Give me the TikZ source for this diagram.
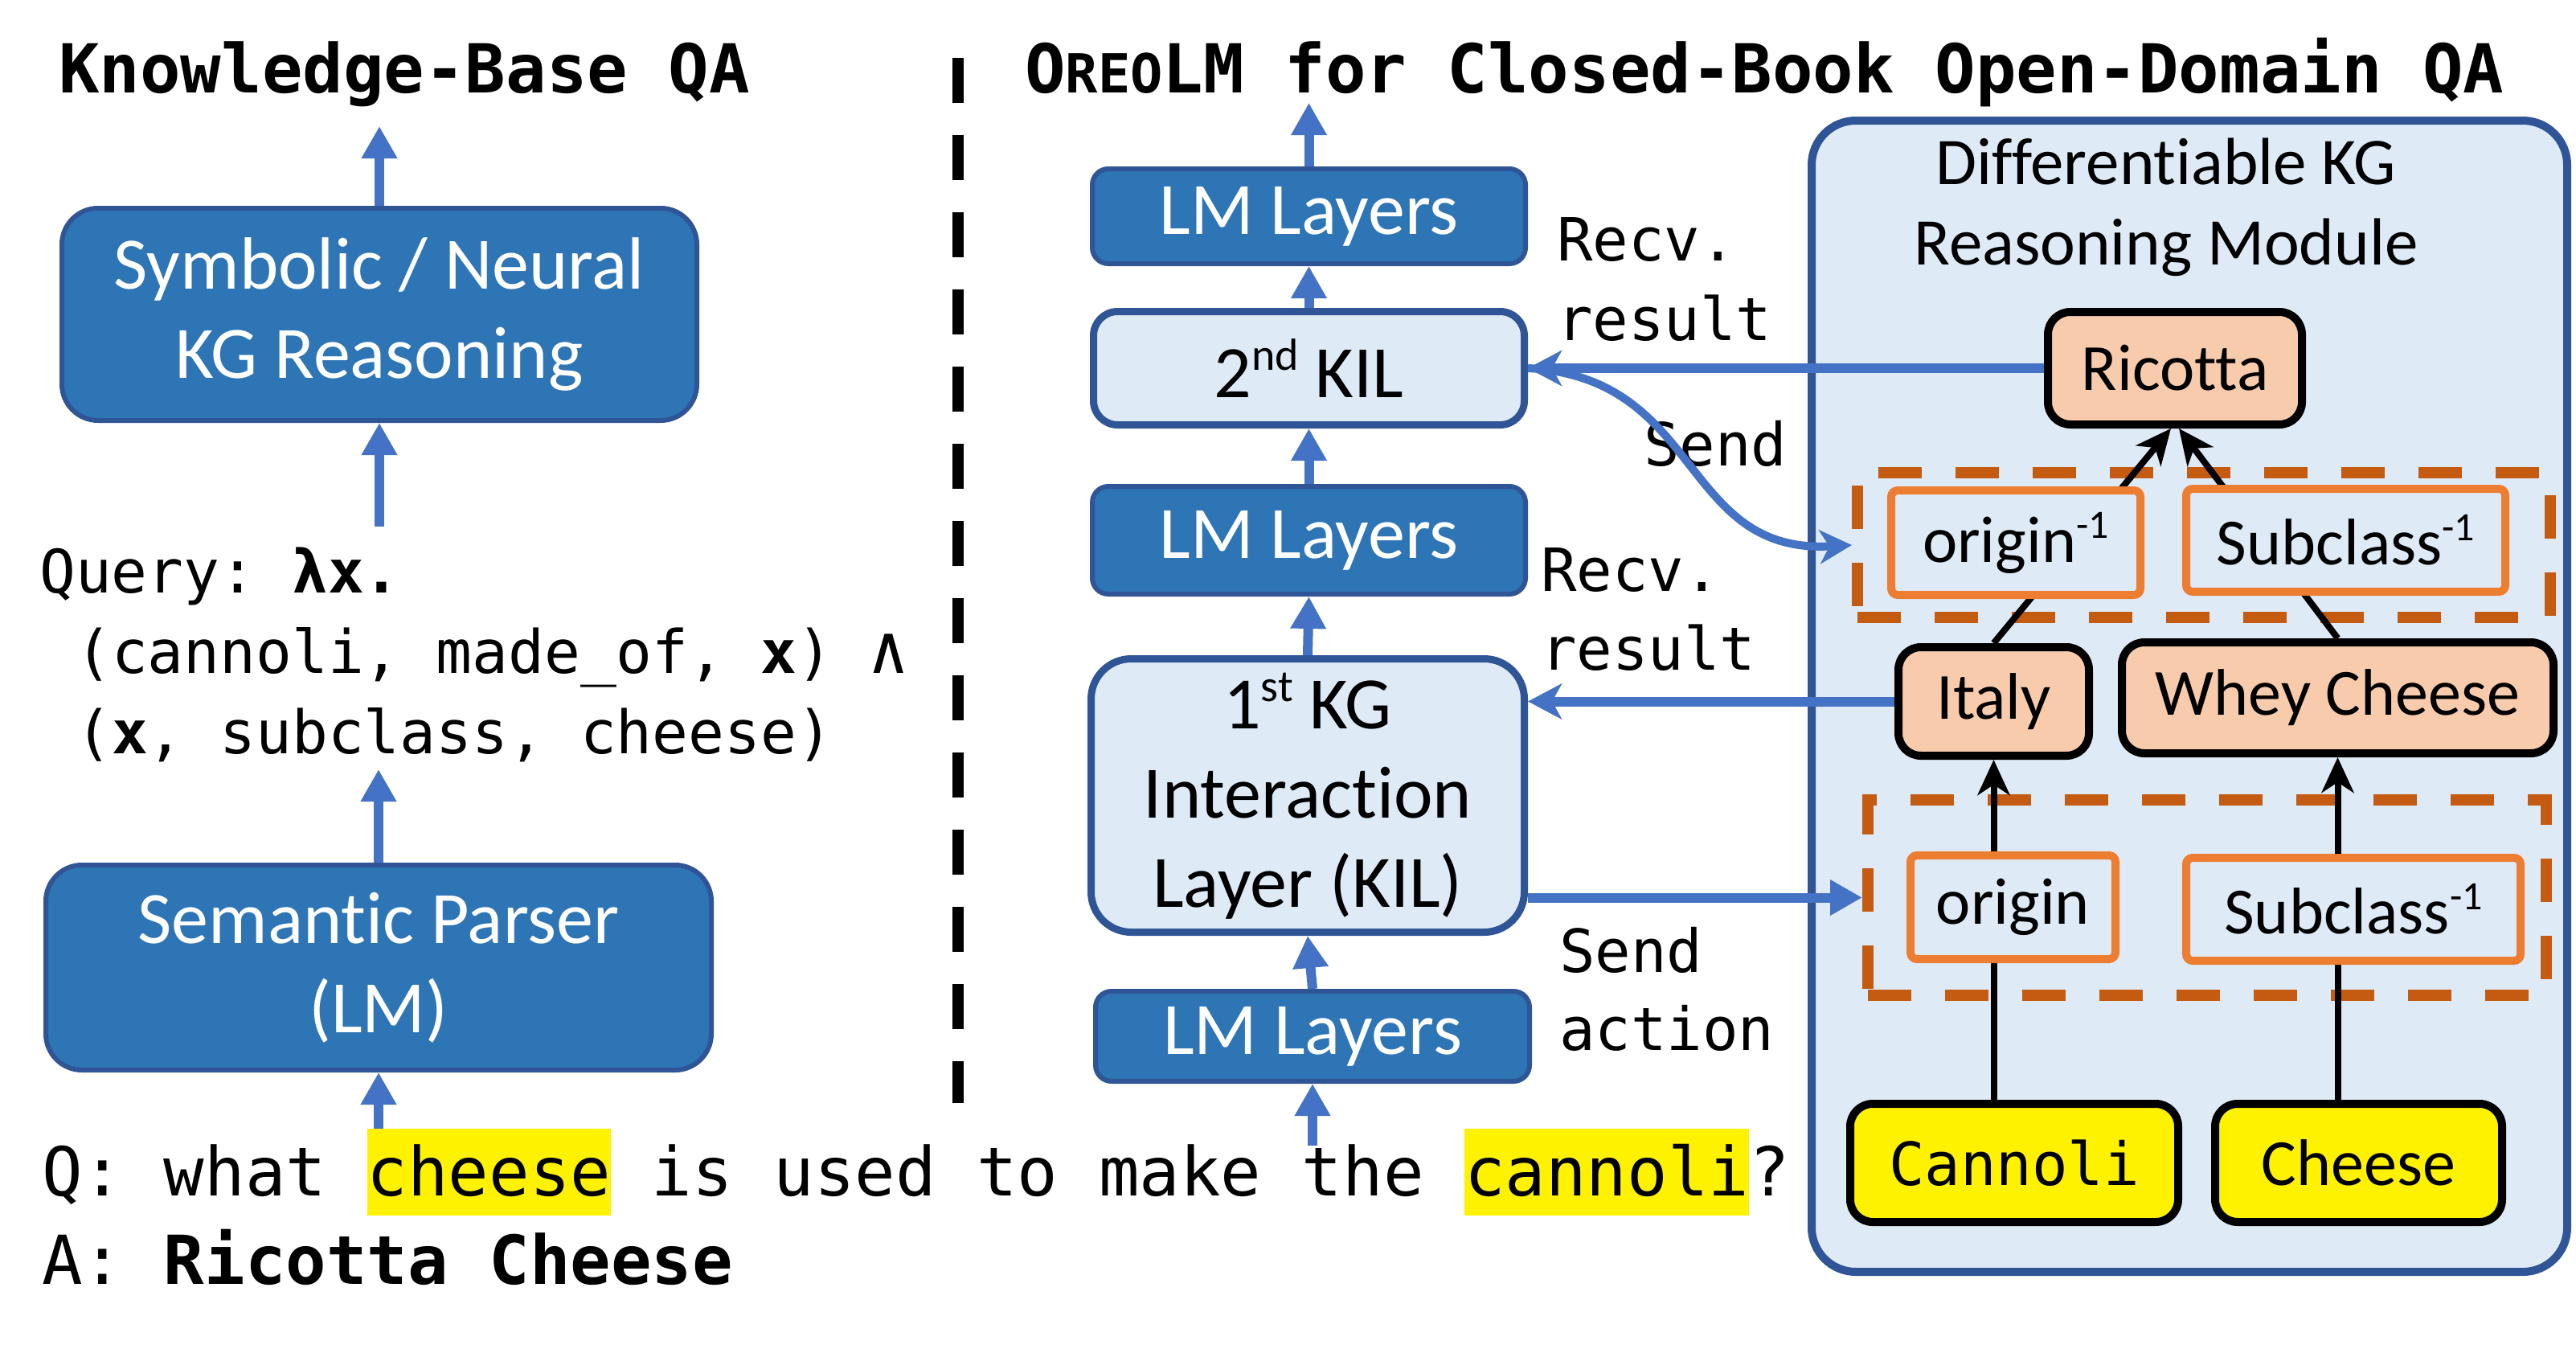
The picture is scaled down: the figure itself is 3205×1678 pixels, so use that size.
\documentclass[tikz,border=0pt]{standalone}
\usepackage{fontspec}
\setmainfont{Carlito}[RawFeature=-liga]
\newfontfamily\mono{DejaVu Sans Mono}
\usetikzlibrary{arrows.meta,calc}
\definecolor{dblue}{HTML}{2E75B6}
\definecolor{dborder}{HTML}{2F5597}
\definecolor{lblue}{HTML}{DEEBF7}
\definecolor{ablue}{HTML}{4472C4}
\definecolor{peach}{HTML}{F8CBAD}
\definecolor{orng}{HTML}{ED7D31}
\definecolor{dorng}{HTML}{C55A11}
\newcommand{\hlt}[1]{{\setlength{\fboxsep}{0pt}\colorbox{yellow}{\rule[-25pt]{0pt}{108pt}#1}}}
\newcommand{\sups}[3]{\raisebox{#1}{\fontsize{#2}{#2}\selectfont #3}}
\begin{document}
\begin{tikzpicture}[x=1pt,y=-1pt,
  darkbox/.style={draw=dborder, fill=dblue, line width=6pt, rounded corners=45pt, text=white, inner sep=0pt, font=\fontsize{92}{111}\selectfont, align=center},
  lightbox/.style={draw=dborder, fill=lblue, line width=9pt, rounded corners=30pt, text=black, inner sep=0pt, font=\fontsize{92}{111}\selectfont, align=center},
  ent/.style={draw=black, line width=10pt, rounded corners=28pt, fill=peach, inner sep=0pt, font=\fontsize{82}{96}\selectfont},
  rel/.style={draw=orng, line width=10pt, rounded corners=8pt, fill=lblue, inner sep=0pt, font=\fontsize{82}{96}\selectfont},
  grp/.style={draw=dorng, line width=14pt, dash pattern=on 54pt off 42pt, inner sep=0pt},
  ttext/.style={inner sep=0pt, anchor=base west, font=\mono\bfseries\fontsize{84}{100}\selectfont},
  qtext/.style={inner sep=0pt, anchor=base west, font=\mono\fontsize{84}{100}\selectfont\frenchspacing},
  mtext/.style={inner sep=0pt, anchor=base west, font=\mono\fontsize{74.5}{90}\selectfont\frenchspacing},
  lbl/.style={inner sep=0pt, anchor=base west, font=\mono\fontsize{74}{90}\selectfont},
  barrow/.style={draw=ablue, line width=12pt, -{Triangle[length=40pt,width=42pt]}},
  sarrow/.style={draw=ablue, line width=12pt, -{Stealth[length=42pt,width=44pt,inset=12pt]}},
  carrow/.style={draw=ablue, line width=10pt, -{Stealth[length=40pt,width=42pt,inset=12pt]}},
  karrow/.style={draw=black, line width=8pt, -{Stealth[length=44pt,width=40pt,inset=13pt]}}
]
\useasboundingbox (0,0) rectangle (3205,1678);
\fill[white] (0,0) rectangle (3205,1678);

% titles
\node[ttext] (tl) at (73,115) {Knowledge-Base QA};
\node[ttext] (tr) at (1275,115) {O{\fontsize{67}{67}\selectfont REO}LM for Closed-Book Open-Domain QA};

% separator
\coordinate (sepTop) at (1192,72);
\coordinate (sepBot) at (1192,1372);
\draw[line width=14pt, dash pattern=on 56pt off 40pt] (sepTop) -- (sepBot);

% left side
\node[darkbox, minimum width=790pt, minimum height=264pt] (sym) at (472,391) {Symbolic / Neural\\KG Reasoning};
\node[darkbox, minimum width=828pt, minimum height=255pt] (sem) at (471,1203.5) {Semantic Parser\\(LM)};
\coordinate (symTop) at (472,157);
\draw[barrow] (sym.north) -- (symTop);
\coordinate (qTop) at (472,655);
\draw[barrow] (qTop) -- (sym.south);
\coordinate (qBot) at (471,957);
\draw[barrow] (sem.north) -- (qBot);
\coordinate (qIn) at (471,1408);
\draw[barrow] (qIn) -- (sem.south);

\node[mtext] (q1) at (49,737) {Query: {\bfseries λx.}};
\node[mtext] (q2) at (94,837) {(cannoli, made\_of, {\bfseries x}) {\fontsize{84}{90}\selectfont ∧}};
\node[mtext] (q3) at (94,937) {({\bfseries x}, subclass, cheese)};

\node[qtext] (qline) at (52,1487) {Q: what \hlt{cheese} is used to make the \hlt{cannoli}?};
\node[qtext] (aline) at (52,1597) {A: {\bfseries Ricotta Cheese}};

% right stack
\node[darkbox, rounded corners=20pt, minimum width=539pt, minimum height=118pt] (lm3) at (1628.5,269) {LM Layers};
\node[lightbox, minimum width=536pt, minimum height=141pt] (kil2) at (1628.5,458) {2\sups{34pt}{56}{nd} KIL};
\node[darkbox, rounded corners=20pt, minimum width=539pt, minimum height=134pt] (lm2) at (1628.5,672) {LM Layers};
\node[lightbox, rounded corners=50pt, minimum width=539pt, minimum height=340pt, text depth=14pt] (kil1) at (1627,989.5) {1\sups{34pt}{56}{st} KG\\Interaction\\Layer (KIL)};
\node[darkbox, rounded corners=20pt, minimum width=540pt, minimum height=112pt] (lm1) at (1633,1289) {LM Layers};

\coordinate (outTop) at (1628.5,128);
\draw[barrow] (lm3.north) -- (outTop);
\draw[barrow] (kil2.north) -- (lm3.south);
\draw[barrow] (lm2.north) -- (kil2.south);
\draw[barrow] (kil1.north) -- (lm2.south);
\draw[barrow] (lm1.north) -- (kil1.south);
\coordinate (inBot) at (1633,1425);
\draw[barrow] (inBot) -- (lm1.south);

% labels
\node[lbl] (recvA) at (1937,324) {Recv.};
\node[lbl] (resA) at (1937,423) {result};
\node[lbl] (sendA) at (2045,579) {Send};
\node[lbl] (recvB) at (1917,735) {Recv.};
\node[lbl] (resB) at (1917,833) {result};
\node[lbl] (sendB) at (1940,1209) {Send};
\node[lbl] (actB) at (1940,1306) {action};

% module
\node[draw=dborder, fill=lblue, line width=10pt, rounded corners=55pt, minimum width=940pt, minimum height=1432pt, inner sep=0pt] (mod) at (2724,866) {};
\node[font=\fontsize{83}{100}\selectfont, align=center, inner sep=0pt] (modt) at (2695,258) {Differentiable KG\\Reasoning Module};

\node[grp, minimum width=862pt, minimum height=180pt] (gU) at (2742,678) {};
\node[grp, minimum width=844pt, minimum height=243pt] (gL) at (2746,1116.5) {};

\node[ent, minimum width=316pt, minimum height=140pt] (Ricotta) at (2706,458) {Ricotta};
\node[ent, minimum width=237pt, minimum height=135pt] (Italy) at (2480.5,872.5) {Italy};
\node[ent, minimum width=537pt, minimum height=138pt] (Whey) at (2908.5,868) {Whey Cheese};
\node[ent, fill=yellow, minimum width=408pt, minimum height=147pt, font=\mono\fontsize{74}{90}\selectfont] (Cannoli) at (2506,1446.5) {Cannoli};
\node[ent, fill=yellow, minimum width=357pt, minimum height=147pt] (Cheese) at (2934.5,1446.5) {Cheese};

\draw[karrow] (Italy.south |- Cannoli.north) -- (Italy.south);
\draw[karrow] (Whey.south |- Cheese.north) -- (Whey.south);
\draw[karrow] (Italy.north) -- ($(Ricotta.south)+(-5,0)$);
\draw[karrow] (Whey.north) -- ($(Ricotta.south)+(5,0)$);

\node[rel, minimum width=310pt, minimum height=130pt] (o1u) at (2508,675) {origin\sups{30pt}{50}{-1}};
\node[rel, minimum width=397pt, minimum height=128pt] (s1u) at (2918.5,672) {Subclass\sups{30pt}{50}{-1}};
\node[rel, minimum width=255pt, minimum height=129pt] (ol) at (2504.5,1128.5) {origin};
\node[rel, minimum width=416pt, minimum height=128pt] (s1l) at (2928,1131) {Subclass\sups{30pt}{50}{-1}};

% interactions
\draw[sarrow] (Ricotta.west) -- (kil2.east);
\draw[carrow] (kil2.east) .. controls (2120,470) and (2090,690) .. (gU.west);
\draw[sarrow] (Italy.west) -- (Italy.west -| kil1.east);
\draw[barrow] (kil1.east |- gL.west) -- (gL.west);
\end{tikzpicture}
\end{document}
